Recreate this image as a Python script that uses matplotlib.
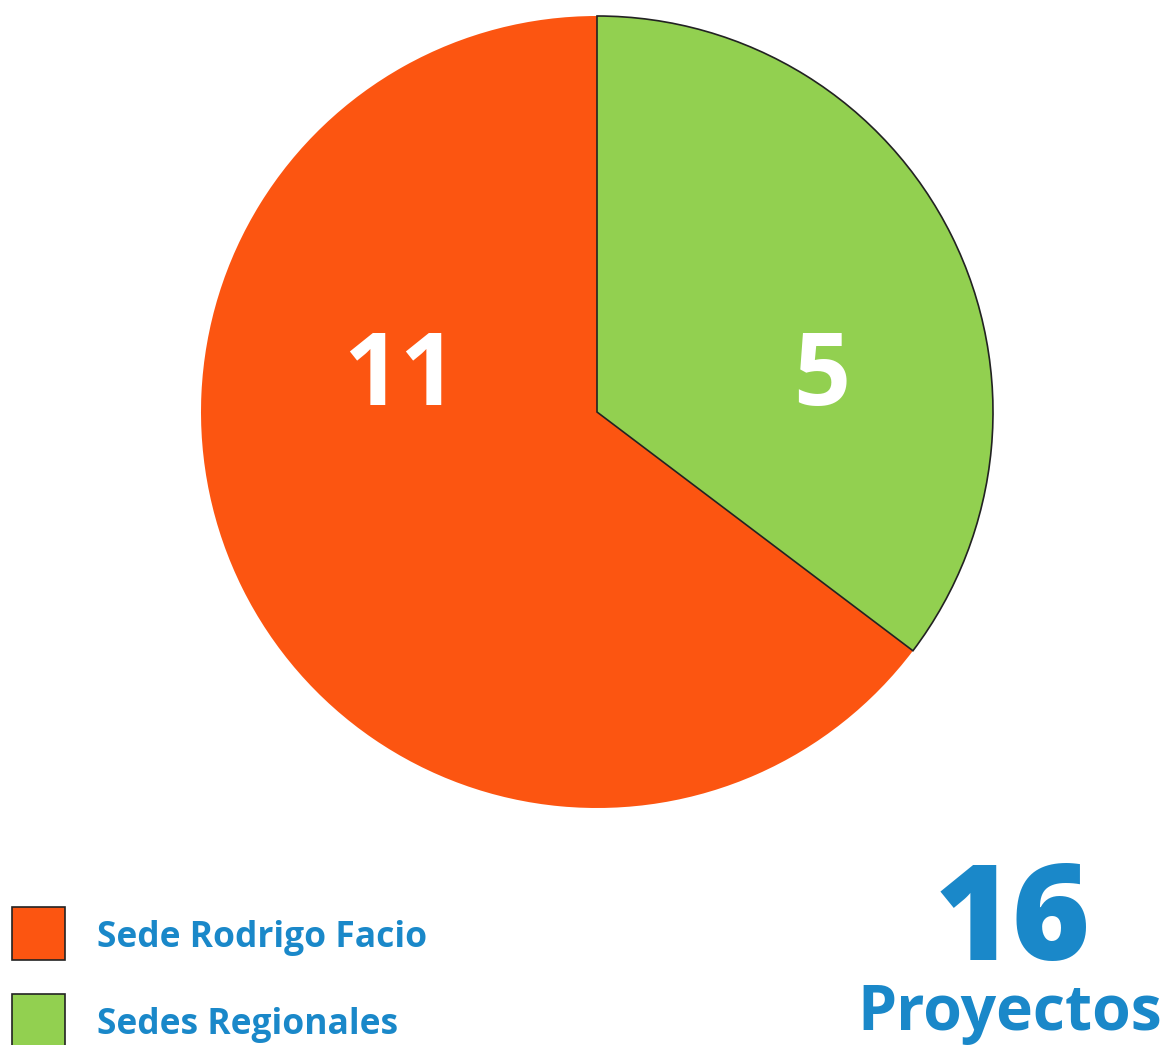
import matplotlib
matplotlib.use('Agg')
import matplotlib.pyplot as plt
from matplotlib.patches import Rectangle

# data
categories = ['Sedes Regionales', 'Sede Rodrigo Facio']
counts = [5, 11]
# slice shares as drawn in the original graphic (percent of circle)
shares = [35.3, 64.7]
colors = ['#92d050', '#fc5511']
total = 16

W, H = 1170, 1045
fig = plt.figure(figsize=(W / 100, H / 100), dpi=100)
blue = '#1a88c9'
plt.rcParams['font.family'] = ['Open Sans', 'DejaVu Sans']

def fx(px):
    return px / W

def fy(py):
    return 1 - py / H

# pie
cx, cy, r = 597, 412, 396
ax = fig.add_axes([fx(cx - r), fy(cy + r), 2 * r / W, 2 * r / H])
wedges, _ = ax.pie(shares, colors=colors, startangle=90, counterclock=False,
                   radius=1, wedgeprops=dict(linewidth=1.2, edgecolor='#222222'))
wedges[1].set_edgecolor('none')
wedges[1].set_zorder(1)
wedges[0].set_zorder(2)
for w in wedges:
    w.set_clip_on(False)
ax.set_xlim(-1, 1)
ax.set_ylim(-1, 1)
ax.set_aspect('equal')
ax.axis('off')

# value labels
ax.text(-0.497, 0.018, str(counts[1]), color='white', fontsize=72,
        fontweight='bold', ha='center', va='baseline')
ax.text(0.568, 0.018, str(counts[0]), color='white', fontsize=72,
        fontweight='bold', ha='center', va='baseline')

# legend
leg = [(907, categories[1], colors[1]), (994, categories[0], colors[0])]
for top, name, col in leg:
    fig.patches.append(Rectangle((fx(12), fy(top + 53)), 53 / W, 53 / H,
                                 transform=fig.transFigure, facecolor=col,
                                 edgecolor='#222222', linewidth=1.2))
    fig.text(fx(97), fy(top + 40), name, color=blue, fontsize=25.5,
             fontweight='bold', ha='left', va='baseline')

# total
fig.text(fx(1013), fy(960), str(total), color=blue, fontsize=96,
         fontweight='heavy', ha='center', va='baseline')
fig.text(fx(1010), fy(1030), 'Proyectos', color=blue, fontsize=45,
         fontweight='bold', ha='center', va='baseline')

fig.savefig('out.png', dpi=100)
